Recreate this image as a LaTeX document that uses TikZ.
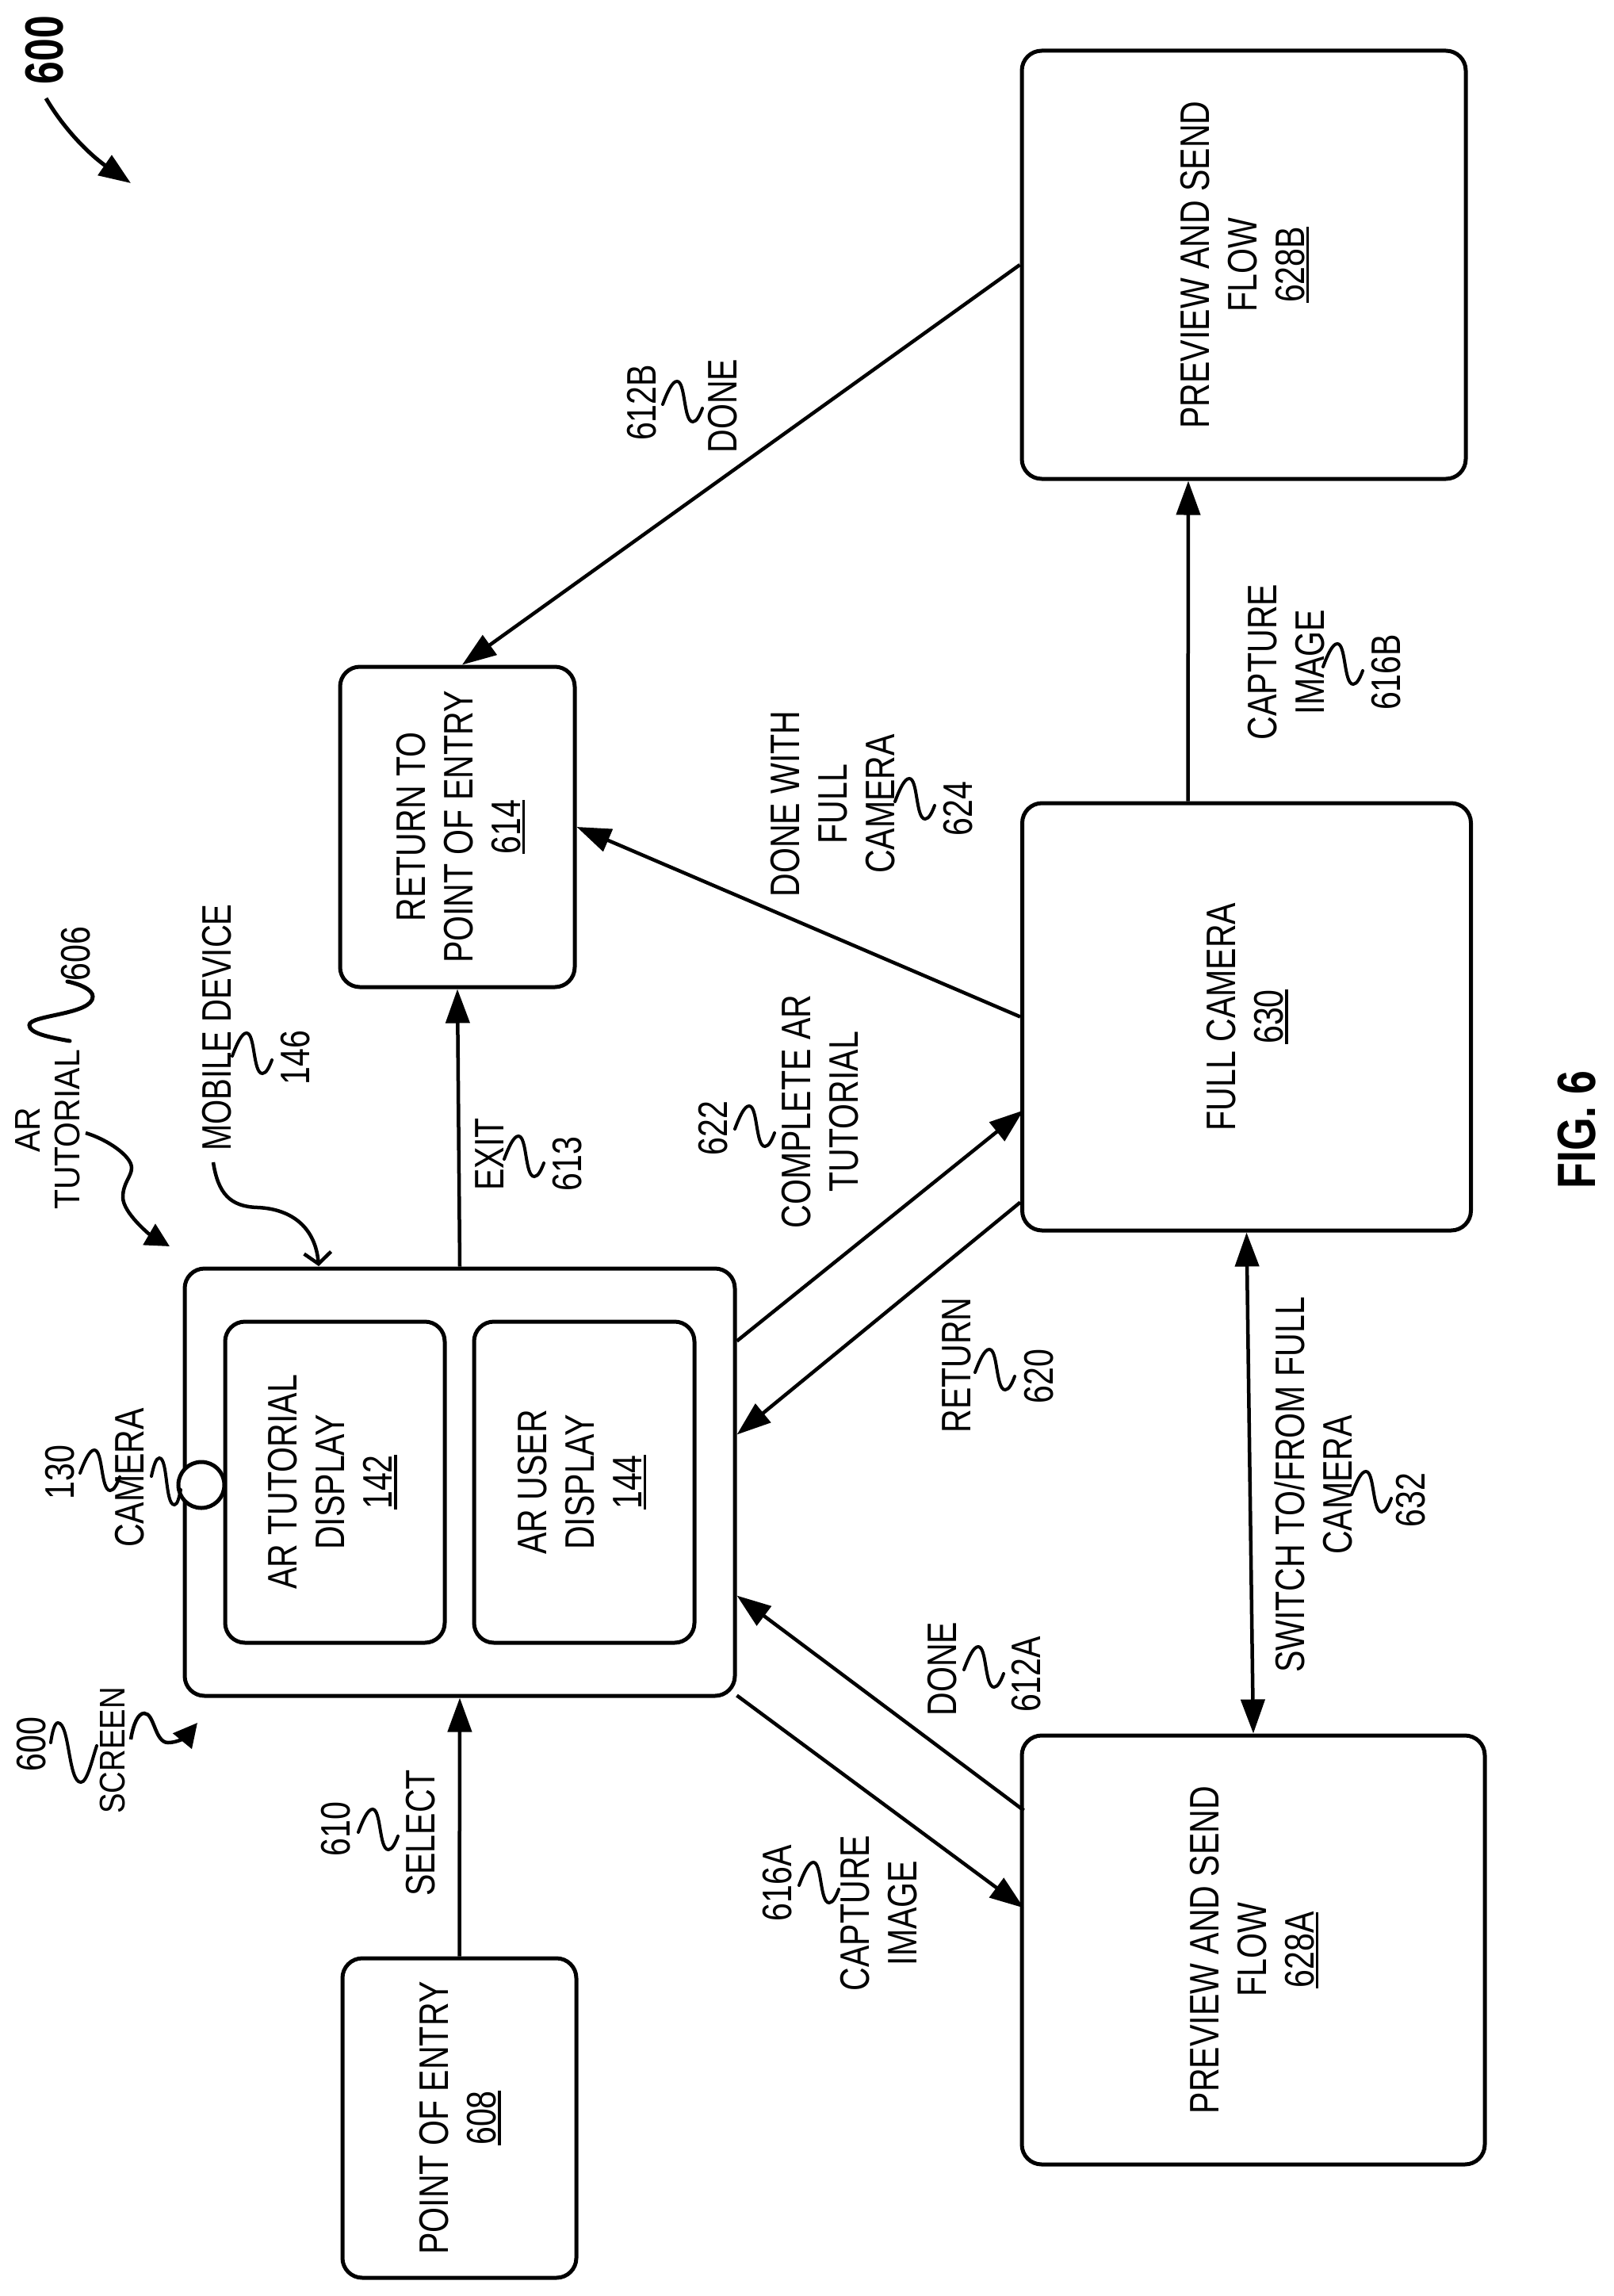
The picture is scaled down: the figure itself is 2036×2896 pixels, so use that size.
\documentclass[tikz,border=0pt]{standalone}
\usepackage{graphicx}
\usepackage{fontspec}
\setmainfont{Liberation Sans}
\usetikzlibrary{arrows.meta}

% Rotated, narrowed text
\newcommand{\lab}[2][.79]{\rotatebox{90}{\scalebox{#1}[1]{\begin{tabular}{@{}c@{}}#2\end{tabular}}}}
\newcommand{\blab}[1]{\hspace*{8pt}\lab{#1}}
\newcommand{\refnum}[1]{\setbox0\hbox{#1}\rlap{\rule[-6pt]{\wd0}{3.5pt}}#1}

\tikzset{
  box/.style={draw, rounded corners=25pt, line width=5pt, inner sep=0pt, font=\fontsize{52}{60}\selectfont},
  lbl/.style={inner sep=0pt, xshift=6pt, font=\fontsize{52}{60}\selectfont},
  lblsm/.style={inner sep=0pt, xshift=5pt, font=\fontsize{45}{50}\selectfont},
  lblbig/.style={inner sep=0pt, xshift=8pt, font=\bfseries\fontsize{68}{78}\selectfont},
  arr/.style={line width=4.5pt, -{Triangle[length=43pt,width=30pt]}},
  squig/.style={line width=4pt, line cap=round},
}

\begin{document}
\begin{tikzpicture}[x=1pt,y=-1pt]
\useasboundingbox (0,0) rectangle (2036,2896);

% Draw the main boxes
\node[box, minimum width=296pt, minimum height=404pt] (ret) at (577,1043) {\hspace*{6pt}\blab{RETURN TO\\POINT OF ENTRY\\\refnum{614}}};
\node[box, minimum width=295pt, minimum height=403pt] (entry) at (579.5,2671.5) {\blab{POINT OF ENTRY\\\refnum{608}}};
\node[box, minimum width=560pt, minimum height=540pt] (flowb) at (1569,334) {\blab{PREVIEW AND SEND\\FLOW\\\refnum{628B}}};
\node[box, minimum width=566pt, minimum height=539pt] (fullcam) at (1572.5,1282.5) {\blab{FULL CAMERA\\\refnum{630}}};
\node[box, minimum width=584pt, minimum height=541pt] (flowa) at (1581,2459.5) {\blab{PREVIEW AND SEND\\FLOW\\\refnum{628A}}};

% Draw the mobile device
\node[box, minimum width=694pt, minimum height=539pt] (mobile) at (580,1869.5) {};
\node[box, minimum width=277pt, minimum height=405pt] (tutdisp) at (422.5,1869.5) {\lab{AR TUTORIAL\\DISPLAY\\\refnum{142}}};
\node[box, minimum width=278pt, minimum height=405pt] (userdisp) at (737,1869.5) {\lab{AR USER\\DISPLAY\\\refnum{144}}};
\node[draw, circle, line width=5pt, fill=white, minimum size=58pt, inner sep=0pt] (cam) at (254,1873) {};

% Draw the connectors
\draw[arr] (entry.north) -- (mobile.south);
\draw[arr] (mobile.north) -- (ret.south);
\draw[arr] (fullcam.west) -- (ret.east);
\draw[arr] (flowb.west) -- ([xshift=6pt]ret.north);
\draw[arr] ([xshift=-74pt]fullcam.north) -- ([xshift=-70pt]flowb.south);
\draw[arr] ([yshift=178pt]mobile.east) -- ([xshift=4pt,yshift=-118pt]fullcam.west);
\draw[arr] ([yshift=-234pt]fullcam.west) -- ([yshift=60pt]mobile.east);
\draw[arr] ([xshift=5pt,yshift=176pt]flowa.west) -- ([yshift=-143pt]mobile.east);
\draw[arr] ([yshift=-269pt]mobile.east) -- ([xshift=5pt,yshift=53pt]flowa.west);
\draw[line width=4.5pt, {Triangle[length=43pt,width=30pt]}-{Triangle[length=43pt,width=30pt]}] (fullcam.south) -- (flowa.north);

% Draw the labels
\node[lblbig] (fig) at (56,63) {\lab[.76]{600}};
\node[lblbig] (figname) at (1989,1425) {\lab{FIG. 6}};
\node[lblsm] (artut) at (61,1425) {\lab[.91]{AR\\TUTORIAL}};
\node[lbl] (n606) at (95,1203) {\lab{606}};
\node[lbl] (mobdev) at (273,1296) {\lab[.77]{MOBILE DEVICE}};
\node[lbl] (n146) at (372,1334) {\lab{146}};
\node[lbl] (n130) at (75,1857) {\lab{130}};
\node[lbl] (camera) at (163,1864) {\lab{CAMERA}};
\node[lbl] (n600) at (40,2200) {\lab{600}};
\node[lblsm] (screen) at (142,2208) {\lab[.85]{SCREEN}};
\node[lbl] (exit) at (617,1456) {\lab{EXIT}};
\node[lbl] (n613) at (715,1468) {\lab{613}};
\node[lbl] (n622) at (899,1423) {\lab{622}};
\node[lbl] (complete) at (1034,1402) {\lab{COMPLETE AR\\TUTORIAL}};
\node[lbl] (donefull) at (1050,1014) {\lab{DONE WITH\\FULL\\CAMERA}};
\node[lbl] (n624) at (1208,1020) {\lab{624}};
\node[lbl] (n612b) at (809,508) {\lab{612B}};
\node[lbl] (doneb) at (911,512) {\lab{DONE}};
\node[lbl] (captb) at (1622,835) {\lab{CAPTURE\\IMAGE}};
\node[lbl] (n616b) at (1748,848) {\lab{616B}};
\node[lbl] (return) at (1206,1722) {\lab{RETURN}};
\node[lbl] (n620) at (1310,1736) {\lab{620}};
\node[lbl] (switch) at (1657,1873) {\lab{SWITCH TO/FROM FULL\\CAMERA}};
\node[lbl] (n632) at (1779,1892) {\lab{632}};
\node[lbl] (donea) at (1188,2105) {\lab{DONE}};
\node[lbl] (n612a) at (1294,2112) {\lab{612A}};
\node[lbl] (n610) at (423,2307) {\lab{610}};
\node[lbl] (select) at (530,2312) {\lab{SELECT}};
\node[lbl] (n616a) at (980,2375) {\lab{616A}};
\node[lbl] (capta) at (1108,2413) {\lab{CAPTURE\\IMAGE}};

% Draw the small squiggles
\foreach \sx/\sy in {836/510, 1129/1011, 1230/1731, 1216/2106, 1705/1885, 293/1332, 636/1462, 927/1424, 101/1858, 1669/841, 1008/2378, 452/2311}
  \draw[squig, shift={(\sx,\sy)}] (0,0) .. controls (6,-16) and (12,-29) .. (18,-29) .. controls (29,-29) and (26,22) .. (38,22) .. controls (43,22) and (47,13) .. (50,5);

% Draw the larger squiggles
\draw[squig] (191,1862) .. controls (194,1848) and (197,1839) .. (201,1839) .. controls (212,1839) and (208,1898) .. (220,1898) .. controls (224,1898) and (226,1888) .. (228,1879);
\draw[squig] (64,2198) .. controls (66,2184) and (69,2173) .. (73,2173) .. controls (88,2173) and (86,2248) .. (102,2248) .. controls (110,2248) and (116,2220) .. (122,2202);
\draw[squig, line width=5pt] (88,1313) .. controls (60,1308) and (37,1303) .. (37,1293) .. controls (37,1280) and (117,1280) .. (117,1257) .. controls (117,1248) and (100,1241) .. (85,1238);

% Draw the curved arrows
\draw[line width=5pt, -{Triangle[length=40pt,width=30pt]}] (58,124) .. controls (85,170) and (120,200) .. (165,231);
\draw[line width=4.5pt, -{Triangle[length=30pt,width=30pt]}] (108,1429) .. controls (135,1437) and (166,1458) .. (166,1473) .. controls (166,1484) and (155,1492) .. (155,1510) .. controls (155,1530) and (190,1558) .. (214,1572);
\draw[line width=4.5pt, -{Triangle[length=30pt,width=30pt]}] (165,2194) .. controls (168,2175) and (174,2161) .. (182,2161) .. controls (195,2161) and (195,2198) .. (212,2198) .. controls (225,2198) and (235,2190) .. (249,2173);
\draw[line width=4.5pt, -{Straight Barb[length=14pt,width=34pt]}] (269,1466) .. controls (275,1505) and (290,1522) .. (325,1523) .. controls (370,1525) and (398,1550) .. (402,1597);

\end{tikzpicture}
\end{document}
